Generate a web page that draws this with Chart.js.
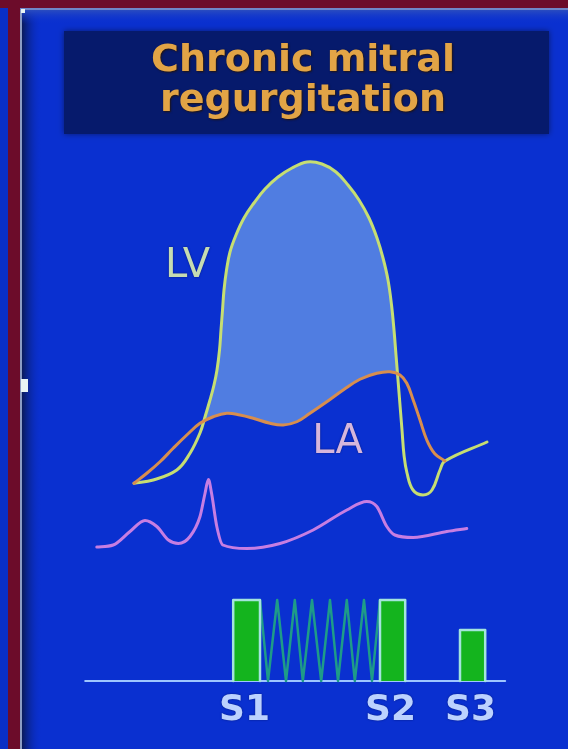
<!DOCTYPE html>
<html>
<head>
<meta charset="utf-8">
<title>Chronic mitral regurgitation</title>
<script src="https://cdn.jsdelivr.net/npm/chart.js@4.4.1/dist/chart.umd.min.js"></script>
<style>
  html, body { margin: 0; padding: 0; background: #0a30d0; overflow: hidden; }
  #wrap { position: relative; width: 568px; height: 749px; }
</style>
</head>
<body>
<div id="wrap"><canvas id="chart"></canvas></div>
<script>
// Left ventricular pressure over one cardiac cycle (time in ms, pressure in mmHg)
const lvTime     = [0, 48, 107, 140, 165, 177.5, 190, 200, 207.5, 213.8, 217.5, 221.3, 225, 231.3, 240, 255, 275, 300, 327.5, 360, 395, 432.5, 470, 505, 535, 562.5, 587.5, 607.5, 622.5, 635, 643.8, 650, 655, 660, 665, 670, 675, 682.5, 697.5, 722.5, 745, 765, 777.5, 882.5];
const lvPressure = [6.7, 8, 12, 18.7, 26.8, 33.2, 40, 46, 52, 60, 68, 76, 84, 92, 99.2, 106, 112.8, 118.8, 124.4, 129.2, 132.8, 135.2, 134.4, 131.2, 126, 120, 112.8, 104.8, 96.8, 88, 78, 68, 58, 48, 38, 28, 18, 10.8, 4, 2, 4, 12, 15.6, 23.2];

// Left atrial pressure with the large regurgitant v wave
const laTime     = [0, 32, 65, 98, 132, 165, 198, 232, 265, 298, 340, 373, 407, 440, 482, 523, 565, 607, 640, 665, 682, 698, 715, 732, 752, 777.5];
const laPressure = [6.7, 10.7, 15.3, 20.7, 26, 30.7, 33.3, 34.7, 34, 32.7, 30.7, 30, 31.3, 34.7, 39.3, 44, 48.3, 50.7, 51.3, 50, 46.7, 40, 32, 24, 18.5, 15.6];

// Electrocardiogram (mV)
const ecgTime    = [-93, -52, -10, 27.5, 57, 86, 111, 140, 165, 177.5, 186, 194, 207, 222, 282, 365, 448, 532, 582, 607, 632, 652, 698, 782, 832];
const ecgVoltage = [0, 0.04, 0.31, 0.53, 0.41, 0.14, 0.07, 0.21, 0.61, 1.07, 1.35, 1.07, 0.41, 0.04, -0.03, 0.07, 0.34, 0.74, 0.91, 0.81, 0.41, 0.24, 0.19, 0.31, 0.37];

// Phonocardiogram: heart sounds (onset / end in ms, relative intensity)
const soundNames     = ['S1', 'S2', 'S3'];
const soundOnset     = [248, 615, 815];
const soundEnd       = [315, 678, 878];
const soundIntensity = [1.0, 1.0, 0.63];

// Holosystolic murmur vertices between S1 and S2
const murmurTime      = [315, 335, 358, 380, 402, 422, 445, 468, 490, 510, 532, 552, 575, 595, 615];
const murmurIntensity = [1, 0, 1, 0, 1, 0, 1, 0, 1, 0, 1, 0, 1, 0, 1];

// Recording span of the phonocardiogram baseline
const phonoSpan = [-122, 928];

const pts = (xs, ys) => xs.map((x, i) => ({ x, y: ys[i] }));

const soundDatasets = soundNames.map((name, i) => ({
  label: name,
  data: [
    { x: soundOnset[i], y: 0 },
    { x: soundOnset[i], y: soundIntensity[i] },
    { x: soundEnd[i], y: soundIntensity[i] },
    { x: soundEnd[i], y: 0 }
  ],
  yAxisID: 'phono',
  borderColor: '#a4e4dc',
  borderWidth: 2.5,
  backgroundColor: '#14b41e',
  fill: 'origin',
  tension: 0,
  order: 6
}));

// Slide backdrop: frame, panel and title box
const backdrop = {
  id: 'backdrop',
  beforeDraw(chart) {
    const { ctx, width, height } = chart;
    ctx.save();
    ctx.fillStyle = '#0a30d0';
    ctx.fillRect(0, 0, width, height);

    // soft inner shading along the panel's left and top edges
    let g = ctx.createLinearGradient(22, 0, 42, 0);
    g.addColorStop(0, '#0a1a5a');
    g.addColorStop(1, 'rgba(10,48,208,0)');
    ctx.fillStyle = g;
    ctx.fillRect(22, 10, 20, height - 10);
    g = ctx.createLinearGradient(0, 10, 0, 24);
    g.addColorStop(0, '#2a4cc0');
    g.addColorStop(1, 'rgba(10,48,208,0)');
    ctx.fillStyle = g;
    ctx.fillRect(22, 10, width - 22, 14);

    // outer frame
    ctx.fillStyle = '#0a2fc6';
    ctx.fillRect(0, 8, 8, height - 8);
    ctx.fillStyle = '#6c0c2a';
    ctx.fillRect(0, 0, width, 8);
    ctx.fillRect(8, 0, 12, height);
    ctx.fillStyle = '#8c9cc4';
    ctx.fillRect(20, 8, 2, height - 8);
    ctx.fillStyle = '#6f86c8';
    ctx.fillRect(20, 8, width - 20, 2);
    ctx.fillStyle = '#e8f4f4';
    ctx.fillRect(21, 9, 4, 4);
    ctx.fillRect(21, 379, 7, 13);

    // title box
    ctx.shadowColor = '#061a6c';
    ctx.shadowBlur = 6;
    ctx.fillStyle = '#061a6c';
    ctx.fillRect(64, 31, 485, 103);
    ctx.restore();
  },
  afterDraw(chart) {
    const { ctx } = chart;
    ctx.save();
    ctx.textAlign = 'center';
    ctx.textBaseline = 'alphabetic';
    ctx.font = 'bold 38px "DejaVu Sans"';
    ctx.shadowColor = 'rgba(40,20,0,0.85)';
    ctx.shadowBlur = 2;
    ctx.shadowOffsetX = 1;
    ctx.shadowOffsetY = 1;
    ctx.fillStyle = '#e2a446';
    ctx.fillText('Chronic mitral', 303, 71);
    ctx.fillText('regurgitation', 303, 111);
    ctx.restore();
  }
};

// Curve names and heart-sound names, placed in data units
const curveLabels = {
  id: 'curveLabels',
  afterDatasetsDraw(chart) {
    const { ctx, scales } = chart;
    const x = scales.x, p = scales.y, ph = scales.phono;
    ctx.save();
    ctx.textAlign = 'center';
    ctx.textBaseline = 'middle';
    ctx.shadowColor = 'rgba(0,10,60,0.6)';
    ctx.shadowBlur = 2;
    ctx.font = '40px "DejaVu Sans"';
    ctx.fillStyle = '#c6dcb2';
    ctx.fillText('LV', x.getPixelForValue(134), p.getPixelForValue(93.2));
    ctx.fillStyle = '#d6b6dc';
    ctx.fillText('LA', x.getPixelForValue(509), p.getPixelForValue(23));

    ctx.font = 'bold 36px "DejaVu Sans"';
    ctx.fillStyle = '#bcd2ff';
    soundNames.forEach((name, i) => {
      const mid = (soundOnset[i] + soundEnd[i]) / 2;
      ctx.fillText(name, x.getPixelForValue(mid) - 2, ph.getPixelForValue(-0.37));
    });
    ctx.restore();
  }
};

new Chart(document.getElementById('chart'), {
  type: 'line',
  data: {
    datasets: [
      {
        label: 'LV',
        data: pts(lvTime, lvPressure),
        yAxisID: 'y',
        borderColor: '#c6de72',
        borderWidth: 3,
        tension: 0.4,
        fill: { target: 1, above: '#507de1', below: 'rgba(0,0,0,0)' },
        order: 3
      },
      {
        label: 'LA',
        data: pts(laTime, laPressure),
        yAxisID: 'y',
        borderColor: '#d88e4e',
        borderWidth: 3,
        tension: 0.4,
        fill: false,
        order: 2
      },
      {
        label: 'ECG',
        data: pts(ecgTime, ecgVoltage),
        yAxisID: 'ecg',
        borderColor: '#c77ee2',
        borderWidth: 3,
        cubicInterpolationMode: 'monotone',
        fill: false,
        order: 4
      },
      {
        label: 'baseline',
        data: phonoSpan.map(t => ({ x: t, y: 0 })),
        yAxisID: 'phono',
        borderColor: '#9ec6ff',
        borderWidth: 2,
        fill: false,
        order: 9
      },
      {
        label: 'murmur',
        data: pts(murmurTime, murmurIntensity),
        yAxisID: 'phono',
        borderColor: '#1e9c88',
        borderWidth: 2.5,
        tension: 0,
        fill: false,
        order: 8
      },
      ...soundDatasets
    ]
  },
  options: {
    responsive: true,
    maintainAspectRatio: false,
    animation: false,
    events: [],
    layout: { padding: 0 },
    elements: { point: { radius: 0, hoverRadius: 0 }, line: { borderCapStyle: 'round', borderJoinStyle: 'round' } },
    plugins: {
      legend: { display: false },
      tooltip: { enabled: false },
      title: { display: false }
    },
    scales: {
      x:     { type: 'linear', min: -335, max: 1085, display: false },
      y:     { type: 'linear', min: -99.6, max: 200, display: false },
      ecg:   { type: 'linear', min: -4.04, max: 10.94, display: false },
      phono: { type: 'linear', min: -0.8395, max: 8.4074, display: false }
    }
  },
  plugins: [backdrop, curveLabels]
});
</script>
</body>
</html>
